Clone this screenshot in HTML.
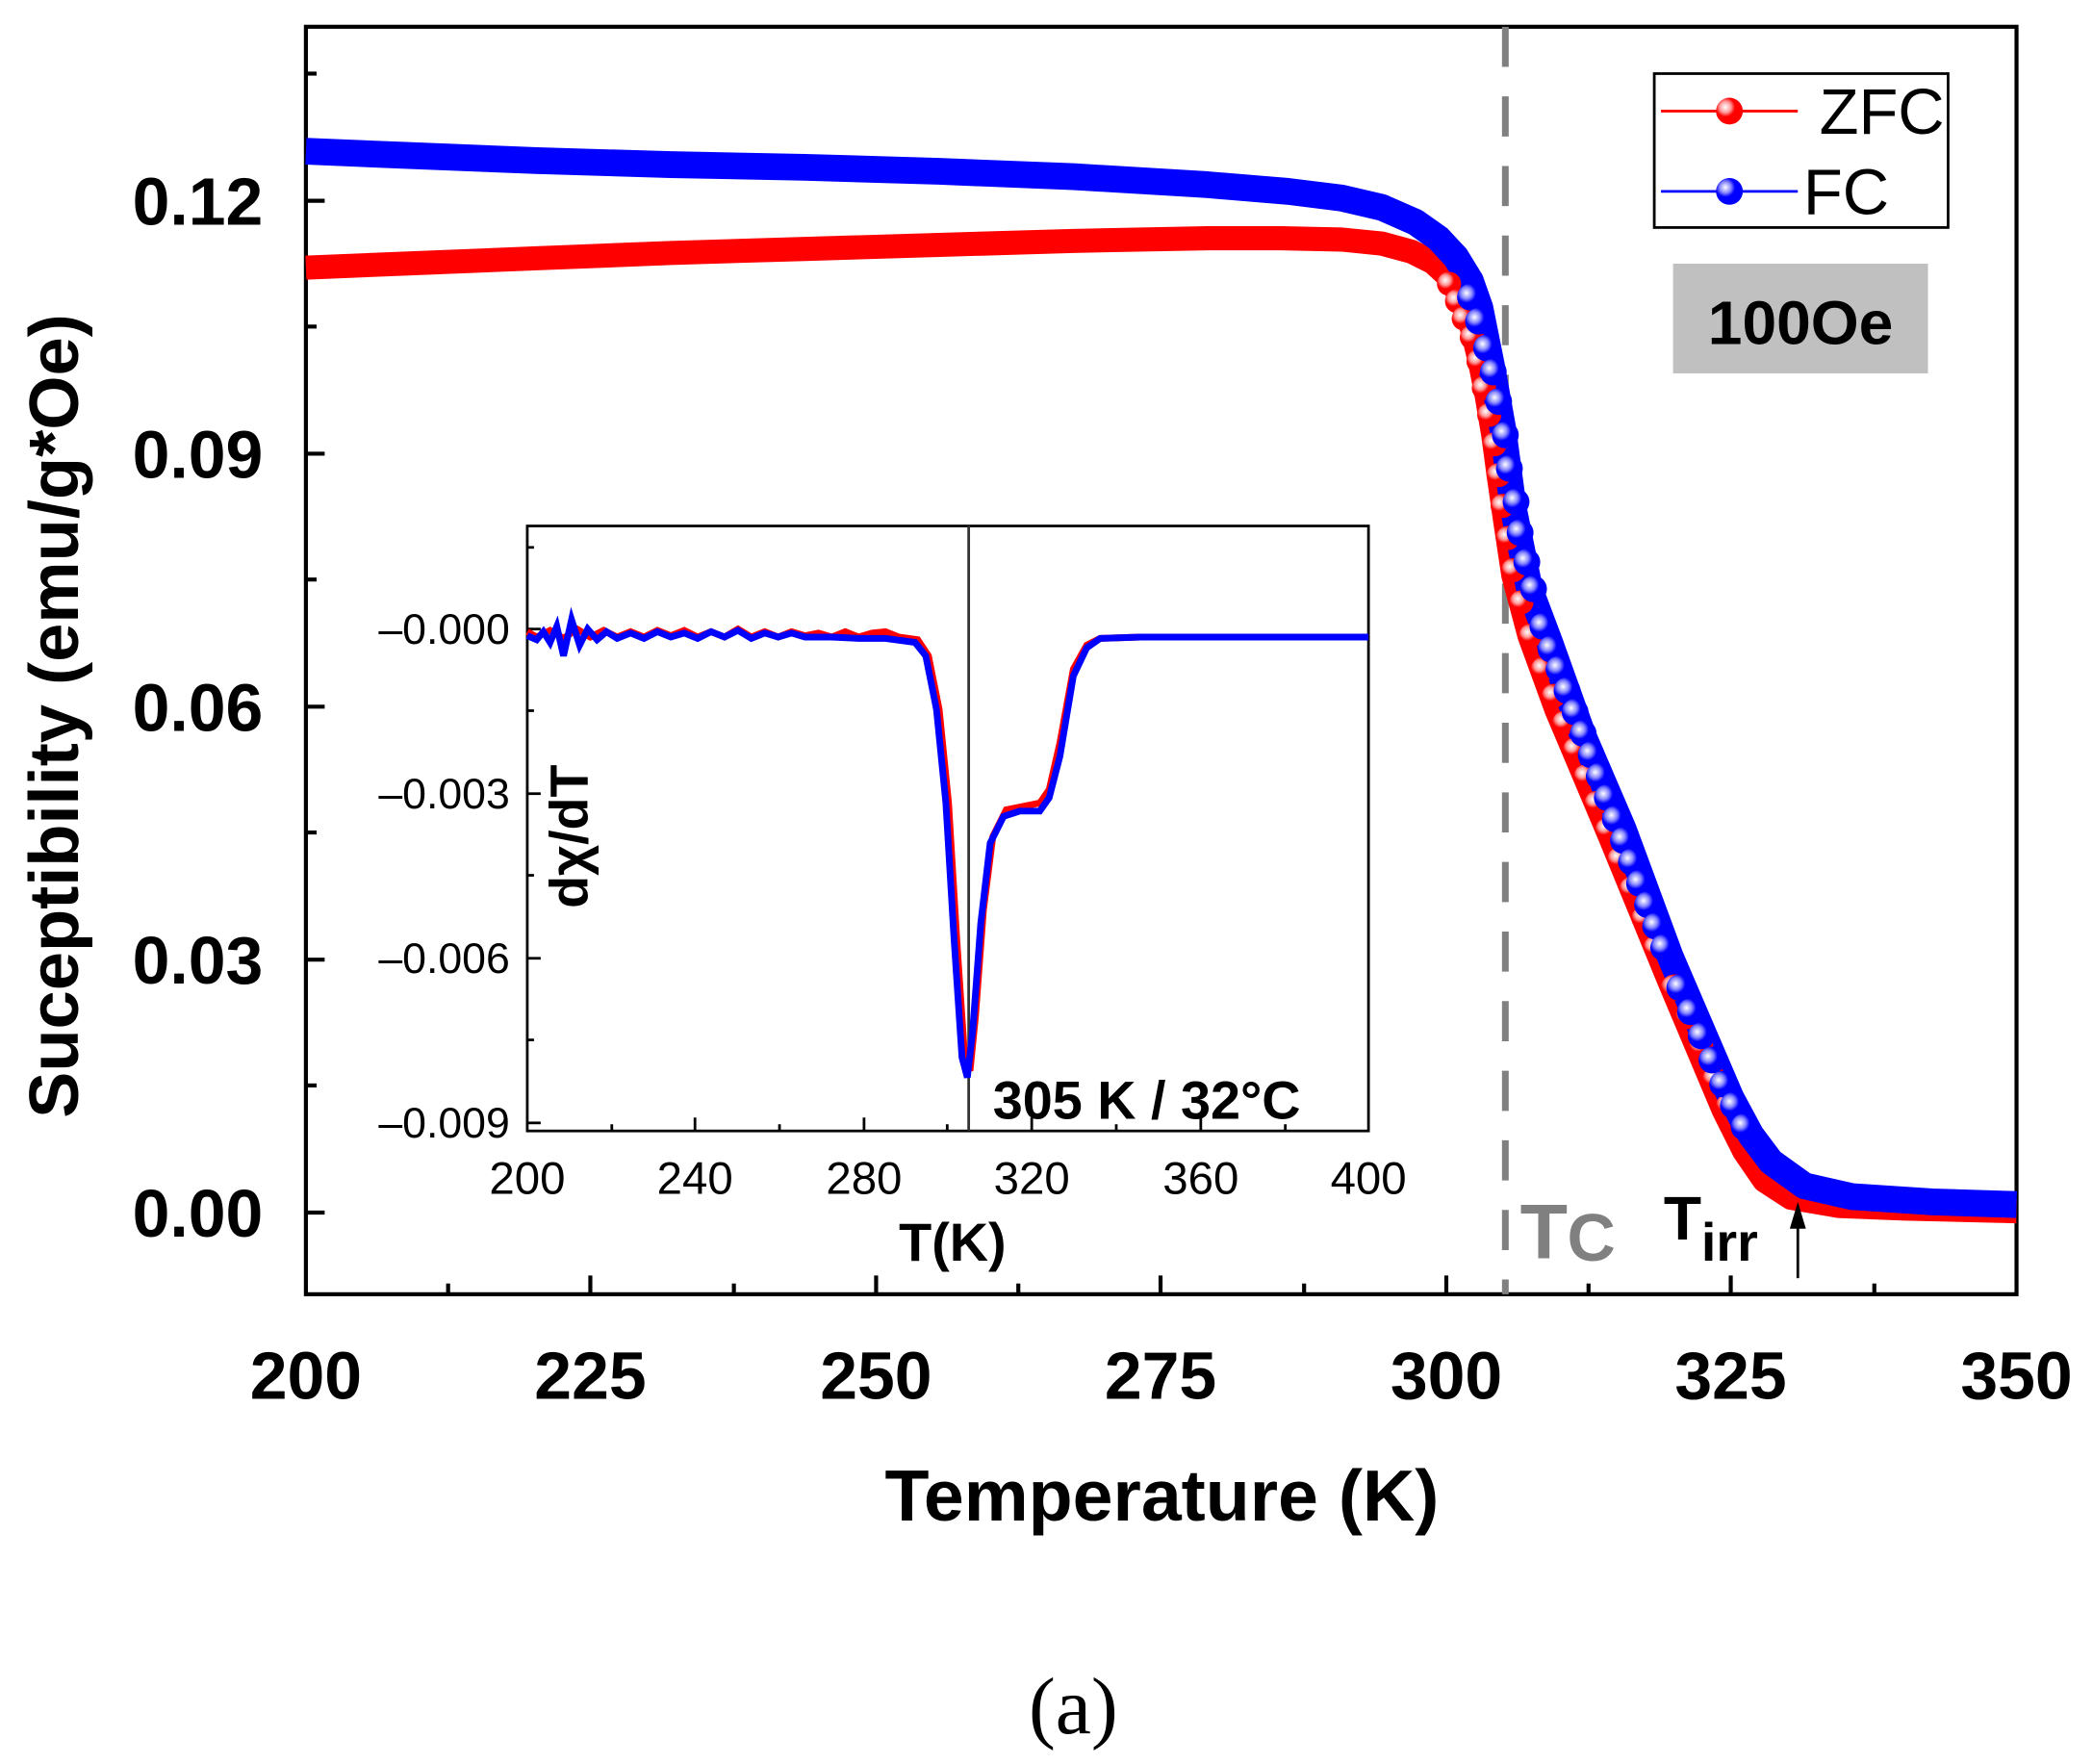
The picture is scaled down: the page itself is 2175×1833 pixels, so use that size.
<!DOCTYPE html>
<html><head><meta charset="utf-8"><style>html,body{margin:0;padding:0;background:#fff}svg{display:block}</style></head>
<body>
<svg width="2175" height="1833" viewBox="0 0 1560 1318" preserveAspectRatio="none" xmlns="http://www.w3.org/2000/svg" font-family="Liberation Sans, sans-serif">
<defs>
<radialGradient id="gb" cx="0.35" cy="0.35" r="0.6"><stop offset="0" stop-color="#fff"/><stop offset="0.35" stop-color="#8888ff"/><stop offset="0.6" stop-color="#0000ff"/></radialGradient>
<radialGradient id="gr" cx="0.35" cy="0.35" r="0.6"><stop offset="0" stop-color="#fff"/><stop offset="0.35" stop-color="#ff9a9a"/><stop offset="0.6" stop-color="#ff0000"/></radialGradient>
</defs>
<rect x="228" y="20" width="1275" height="947" fill="none" stroke="#000" stroke-width="3"/>
<g stroke="#000" stroke-width="3">
<line x1="228" y1="906" x2="242" y2="906"/><line x1="228" y1="717" x2="242" y2="717"/><line x1="228" y1="528" x2="242" y2="528"/><line x1="228" y1="339" x2="242" y2="339"/><line x1="228" y1="150" x2="242" y2="150"/>
<line x1="228" y1="811" x2="236" y2="811"/><line x1="228" y1="622" x2="236" y2="622"/><line x1="228" y1="433" x2="236" y2="433"/><line x1="228" y1="244" x2="236" y2="244"/><line x1="228" y1="55" x2="236" y2="55"/>
<line x1="440" y1="967" x2="440" y2="953"/><line x1="653" y1="967" x2="653" y2="953"/><line x1="865" y1="967" x2="865" y2="953"/><line x1="1078" y1="967" x2="1078" y2="953"/><line x1="1290" y1="967" x2="1290" y2="953"/>
<line x1="334" y1="967" x2="334" y2="959"/><line x1="547" y1="967" x2="547" y2="959"/><line x1="759" y1="967" x2="759" y2="959"/><line x1="972" y1="967" x2="972" y2="959"/><line x1="1184" y1="967" x2="1184" y2="959"/><line x1="1397" y1="967" x2="1397" y2="959"/>
</g>
<g font-weight="bold" font-size="50" text-anchor="end">
<text x="196" y="924">0.00</text><text x="196" y="735">0.03</text><text x="196" y="546">0.06</text><text x="196" y="357">0.09</text><text x="196" y="168">0.12</text>
</g>
<g font-weight="bold" font-size="50" text-anchor="middle">
<text x="228" y="1045">200</text><text x="440" y="1045">225</text><text x="653" y="1045">250</text><text x="865" y="1045">275</text><text x="1078" y="1045">300</text><text x="1290" y="1045">325</text><text x="1503" y="1045">350</text>
<text x="866" y="1136" font-size="54">Temperature (K)</text>
<text transform="translate(58,535) rotate(-90)" font-size="52">Suceptibility (emu/g*Oe)</text>
</g>
<text x="800" y="1295" font-family="Liberation Serif, serif" font-size="60" text-anchor="middle">(a)</text>
<line x1="1122" y1="20" x2="1122" y2="967" stroke="#808080" stroke-width="5" stroke-dasharray="30,22"/>
<path d="M228,200 L300,197 L400,193 L500,189 L600,186 L700,183 L800,180 L900,178 L955,178 L1000,179 L1030,182 L1052,188 L1068,196 L1080,207 L1090,225 L1097,245 L1103,270 L1108,295 L1113,325 L1117,355 L1122,390 L1128,430 L1140,475 L1160,530 L1200,625 L1245,735 L1285,830 L1300,860 L1315,882 L1335,895 L1370,901 L1420,903 L1503,905" fill="none" stroke="#ff0000" stroke-width="18" stroke-linejoin="round"/>
<path d="M228,113 L300,116 L400,120 L500,123 L600,125 L700,128 L800,132 L900,138 L960,143 L1000,148 L1030,155 L1055,166 L1072,178 L1085,192 L1096,210 L1103,230 L1112,275 L1120,320 L1128,380 L1140,440 L1155,480 L1180,550 L1210,620 L1245,715 L1290,820 L1305,848 L1320,868 L1345,886 L1380,894 L1440,898 L1503,900" fill="none" stroke="#0000ff" stroke-width="20" stroke-linejoin="round"/>
<g fill="url(#gr)">
<circle cx="1080" cy="212" r="9"/><circle cx="1086" cy="225" r="9"/><circle cx="1091" cy="238" r="9"/><circle cx="1097" cy="252" r="9"/><circle cx="1102" cy="270" r="9"/><circle cx="1106" cy="290" r="9"/><circle cx="1110" cy="310" r="9"/><circle cx="1114" cy="332" r="9"/><circle cx="1117" cy="355" r="9"/><circle cx="1120" cy="378" r="9"/><circle cx="1124" cy="402" r="9"/><circle cx="1128" cy="426" r="9"/><circle cx="1134" cy="450" r="9"/><circle cx="1141" cy="475" r="9"/><circle cx="1150" cy="500" r="9"/><circle cx="1158" cy="520" r="9"/><circle cx="1166" cy="540" r="9"/><circle cx="1174" cy="560" r="9"/><circle cx="1182" cy="580" r="9"/><circle cx="1190" cy="600" r="9"/><circle cx="1198" cy="620" r="9"/><circle cx="1207" cy="642" r="9"/><circle cx="1216" cy="664" r="9"/><circle cx="1225" cy="686" r="9"/><circle cx="1234" cy="708" r="9"/><circle cx="1248" cy="738" r="10"/><circle cx="1258" cy="760" r="9"/><circle cx="1268" cy="782" r="9"/><circle cx="1278" cy="806" r="9"/><circle cx="1288" cy="826" r="9"/>
</g>
<g fill="url(#gb)">
<circle cx="1096" cy="222" r="10"/><circle cx="1102" cy="240" r="10"/><circle cx="1108" cy="260" r="10"/><circle cx="1113" cy="278" r="10"/><circle cx="1117" cy="300" r="10"/><circle cx="1122" cy="325" r="10"/><circle cx="1125" cy="350" r="10"/><circle cx="1130" cy="375" r="10"/><circle cx="1133" cy="398" r="10"/><circle cx="1138" cy="420" r="10"/><circle cx="1143" cy="440" r="10"/><circle cx="1150" cy="468" r="10"/><circle cx="1156" cy="485" r="10"/><circle cx="1162" cy="500" r="10"/><circle cx="1168" cy="516" r="10"/><circle cx="1174" cy="532" r="10"/><circle cx="1180" cy="548" r="10"/><circle cx="1186" cy="564" r="10"/><circle cx="1192" cy="580" r="10"/><circle cx="1198" cy="596" r="10"/><circle cx="1204" cy="612" r="10"/><circle cx="1210" cy="628" r="10"/><circle cx="1216" cy="644" r="10"/><circle cx="1222" cy="660" r="10"/><circle cx="1228" cy="676" r="10"/><circle cx="1234" cy="692" r="10"/><circle cx="1240" cy="708" r="10"/><circle cx="1252" cy="738" r="10"/><circle cx="1260" cy="756" r="10"/><circle cx="1268" cy="774" r="10"/><circle cx="1276" cy="792" r="10"/><circle cx="1284" cy="810" r="10"/><circle cx="1292" cy="826" r="10"/><circle cx="1300" cy="842" r="10"/>
</g>
<rect x="1233" y="55" width="219" height="115" fill="#fff" stroke="#000" stroke-width="2"/>
<line x1="1238" y1="83" x2="1340" y2="83" stroke="#ff0000" stroke-width="2"/><circle cx="1289" cy="83" r="10" fill="url(#gr)"/>
<line x1="1238" y1="143" x2="1340" y2="143" stroke="#0000ff" stroke-width="2"/><circle cx="1289" cy="143" r="10" fill="url(#gb)"/>
<text x="1356" y="100" font-size="48">ZFC</text><text x="1344" y="160" font-size="48">FC</text>
<rect x="1247" y="197" width="190" height="82" fill="#c0c0c0"/>
<text x="1342" y="257" font-size="46" font-weight="bold" text-anchor="middle">100Oe</text>
<text x="1133" y="940" font-size="58" fill="#808080" font-weight="bold">T</text><text x="1168" y="942" font-size="50" fill="#808080" font-weight="bold">C</text>
<text x="1240" y="926" font-size="46" font-weight="bold">T</text><text x="1268" y="942" font-size="40" font-weight="bold">irr</text>
<line x1="1340" y1="955" x2="1340" y2="910" stroke="#000" stroke-width="2"/><path d="M1334,918 L1340,898 L1346,918 Z" fill="#000"/>
<rect x="393" y="393" width="627" height="452" fill="#fff" stroke="#000" stroke-width="2"/>
<g stroke="#000" stroke-width="2">
<line x1="393" y1="470" x2="403" y2="470"/><line x1="393" y1="593" x2="403" y2="593"/><line x1="393" y1="716" x2="403" y2="716"/><line x1="393" y1="839" x2="403" y2="839"/>
<line x1="393" y1="531" x2="398" y2="531"/><line x1="393" y1="654" x2="398" y2="654"/><line x1="393" y1="777" x2="398" y2="777"/><line x1="393" y1="409" x2="398" y2="409"/>
<line x1="518" y1="845" x2="518" y2="835"/><line x1="644" y1="845" x2="644" y2="835"/><line x1="769" y1="845" x2="769" y2="835"/><line x1="895" y1="845" x2="895" y2="835"/>
<line x1="456" y1="845" x2="456" y2="840"/><line x1="581" y1="845" x2="581" y2="840"/><line x1="706" y1="845" x2="706" y2="840"/><line x1="832" y1="845" x2="832" y2="840"/><line x1="958" y1="845" x2="958" y2="840"/>
</g>
<g font-size="32" text-anchor="end">
<text x="380" y="481">–0.000</text><text x="380" y="604">–0.003</text><text x="380" y="727">–0.006</text><text x="380" y="850">–0.009</text>
</g>
<g font-size="34" text-anchor="middle">
<text x="393" y="892">200</text><text x="518" y="892">240</text><text x="644" y="892">280</text><text x="769" y="892">320</text><text x="895" y="892">360</text><text x="1020" y="892">400</text>
<text x="710" y="942" font-size="40" font-weight="bold">T(K)</text>
<text transform="translate(438,625) rotate(-90)" font-size="40" font-weight="bold">dχ/dT</text>
</g>
<text x="740" y="836" font-size="40" font-weight="bold">305 K / 32°C</text>
<line x1="722" y1="393" x2="722" y2="845" stroke="#333" stroke-width="2"/>
<path d="M393,472 L400,476 L410,471 L420,477 L430,470 L440,476 L450,471 L460,476 L470,472 L480,476 L490,471 L500,475 L510,471 L520,476 L530,472 L540,476 L550,470 L560,476 L570,472 L580,476 L590,472 L600,475 L610,473 L620,476 L630,472 L640,476 L650,473 L660,472 L670,476 L684,478 L692,490 L700,530 L707,600 L713,700 L719,790 L723,800 L727,760 L733,680 L740,625 L750,605 L760,603 L775,600 L782,590 L790,555 L800,500 L810,482 L820,477 L850,476 L1020,476" fill="none" stroke="#ff0000" stroke-width="5"/>
<path d="M393,475 L400,478 L405,472 L410,480 L415,468 L420,490 L426,463 L432,482 L438,470 L445,478 L452,472 L460,477 L470,473 L480,477 L490,472 L500,476 L510,473 L520,477 L530,472 L540,476 L550,471 L560,477 L570,473 L580,476 L590,473 L600,476 L620,476 L640,477 L660,477 L682,480 L690,490 L698,530 L705,600 L711,700 L717,790 L721,805 L725,770 L731,690 L738,630 L748,610 L760,606 L775,606 L782,596 L790,565 L800,505 L810,484 L820,477 L850,476 L1020,476" fill="none" stroke="#0000ff" stroke-width="5"/>
</svg>
</body></html>
